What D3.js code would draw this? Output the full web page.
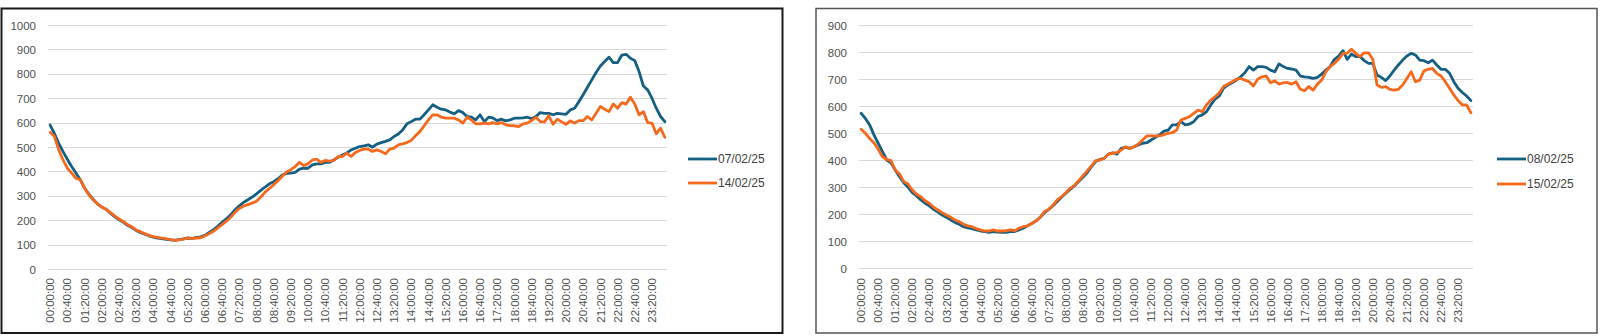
<!DOCTYPE html>
<html>
<head>
<meta charset="utf-8">
<script src="https://cdn.jsdelivr.net/npm/d3@7"></script>
<style>
  html, body { margin: 0; padding: 0; background: #fff; }
  svg { display: block; }
  text { font-family: "Liberation Sans", Arial, sans-serif; }
</style>
</head>
<body>
<svg id="chart" width="1600" height="336"></svg>
<script>
// ---------- DATA ----------
// 10-minute categories 00:00:00 .. 23:50:00
const categories = d3.range(0, 144).map(i => {
  const h = Math.floor(i / 6), m = (i % 6) * 10;
  return String(h).padStart(2, "0") + ":" + String(m).padStart(2, "0") + ":00";
});
// tick labels shown every 40 minutes
const tickLabels = categories.filter((c, i) => i % 4 === 0);

const leftSeriesNames = ["07/02/25", "14/02/25"];
const rightSeriesNames = ["08/02/25", "15/02/25"];

const leftYTicks = [0, 100, 200, 300, 400, 500, 600, 700, 800, 900, 1000];
const rightYTicks = [0, 100, 200, 300, 400, 500, 600, 700, 800, 900];

const values0702 = [
  590,555,515,481,450,420,393,366,332,307,286,267,254,
  245,229,215,202,192,179,170,158,150,143,136,131,127,124,121,119,117,120,123,127,125,130,132,138,150,161,175,191,206,222,243,259,273,284,295,308,322,336,349,358,370,385,392,
  393,396,409,413,413,427,431,431,437,437,447,458,467,475,488,495,502,505,509,499,512,
  518,523,529,543,553,570,595,604,614,614,632,652,673,663,655,652,643,636,649,641,625,622,611,632,604,622,619,608,614,607,611,618,618,619,622,616,625,641,638,638,632,638,636,634,652,659,686,714,745,775,805,832,850,868,846,846,877,880,864,854,809,750,734,700,659,625,604
];
const values1402 = [
  560,543,488,447,413,393,372,366,332,304,284,267,254,
  245,232,218,205,195,182,173,160,153,145,138,133,130,127,124,120,118,119,122,128,124,127,128,135,145,155,168,182,196,212,232,248,258,264,270,278,295,315,330,345,362,380,398,
  407,420,437,424,431,447,450,437,445,442,445,461,461,475,461,477,486,491,491,482,488,
  482,472,491,495,509,513,518,527,546,563,587,611,632,632,622,618,618,618,611,598,622,611,595,595,598,595,600,595,600,591,588,587,584,595,598,608,622,604,603,628,593,614,603,593,607,598,608,608,625,611,638,666,655,645,676,659,682,676,704,676,632,645,600,598,554,577,540
];
const values0802 = [
  573,554,530,493,462,431,400,390,363,338,316,299,279,267,252,240,230,217,207,196,188,178,169,162,153,149,146,141,137,135,132,135,133,132,132,135,135,141,147,156,165,174,188,205,217,231,246,262,277,291,304,320,336,353,375,394,
  402,406,422,427,422,443,447,443,449,456,462,464,474,484,493,507,
  511,530,530,542,530,533,542,561,567,579,604,625,637,666,678,686,696,708,723,746,733,746,746,743,733,727,756,746,739,737,733,711,708,706,702,706,718,733,746,773,785,805,773,792,783,783,768,758,758,715,706,694,711,733,752,770,785,795,789,770,768,760,770,752,736,736,721,690,666,650,637,620
];
const values1502 = [
  514,499,480,464,440,412,402,398,363,348,320,311,289,273,264,249,240,225,215,205,196,188,178,172,162,156,153,146,141,137,137,141,137,137,138,141,138,147,153,156,165,174,188,209,217,233,252,264,279,295,305,323,341,360,378,398,
  400,406,422,425,427,437,449,443,449,459,474,489,489,489,489,494,
  499,501,511,548,554,561,573,585,579,604,622,634,649,672,681,690,699,702,696,690,674,699,708,711,686,693,681,686,687,681,690,662,657,672,659,681,696,727,746,758,773,795,795,810,795,783,797,797,773,678,669,672,662,659,662,678,702,727,690,696,730,736,739,721,711,690,666,641,620,604,604,575
];

const seriesColors = ["#155F82", "#F5691C"];

// ---------- DRAW ----------
const svg = d3.select("#chart");
svg.append("rect").attr("width", 1600).attr("height", 336).attr("fill", "#fff");

function drawPanel(cfg) {
  const g = svg.append("g");
  // frame
  g.append("rect")
    .attr("x", cfg.frame[0]).attr("y", cfg.frame[1])
    .attr("width", cfg.frame[2]).attr("height", cfg.frame[3])
    .attr("fill", "none").attr("stroke", cfg.frameColor).attr("stroke-width", cfg.frameWidth);

  const x = d3.scaleBand().domain(categories).range([cfg.plot.x0, cfg.plot.x1]);
  const y = d3.scaleLinear().domain([0, cfg.yMax]).range([cfg.plot.y0, cfg.plot.y1]);
  const cx = c => x(c) + x.bandwidth() / 2;

  // gridlines
  g.append("g").selectAll("line").data(cfg.yTicks).join("line")
    .attr("x1", cfg.plot.x0).attr("x2", cfg.plot.x1)
    .attr("y1", d => Math.round(y(d)) + 0.5).attr("y2", d => Math.round(y(d)) + 0.5)
    .attr("stroke", "#d9d9d9").attr("stroke-width", 1.2);

  // y axis labels
  const yAxis = d3.axisLeft(y).tickValues(cfg.yTicks).tickFormat(d3.format("d")).tickSize(0).tickPadding(0);
  const ya = g.append("g").attr("transform", `translate(${cfg.yLabelX},0)`).call(yAxis);
  ya.select(".domain").remove();
  ya.selectAll("text").attr("fill", "#505050").style("font-size", "11.5px")
    .style("font-family", '"Liberation Sans", Arial, sans-serif')
    .attr("dy", "0.36em");

  // x axis labels
  const xa = g.append("g");
  xa.selectAll("text").data(tickLabels).join("text")
    .attr("transform", d => `translate(${cx(d)},${cfg.xLabelTop}) rotate(-90)`)
    .attr("text-anchor", "end")
    .attr("dy", "0.36em")
    .attr("fill", "#505050")
    .style("font-size", "11.5px")
    .text(d => d);

  // lines
  const line = d3.line().x((d, i) => cx(categories[i])).y(d => y(d)).curve(d3.curveLinear);
  cfg.series.forEach((s, k) => {
    g.append("path").datum(s.values)
      .attr("d", line)
      .attr("fill", "none")
      .attr("stroke", seriesColors[k])
      .attr("stroke-width", 2.8)
      .attr("stroke-linejoin", "round")
      .attr("stroke-linecap", "round");
  });

  // legend
  cfg.series.forEach((s, k) => {
    const ly = cfg.legend.y + k * cfg.legend.dy;
    g.append("line")
      .attr("x1", cfg.legend.x).attr("x2", cfg.legend.x + 29)
      .attr("y1", ly).attr("y2", ly)
      .attr("stroke", seriesColors[k]).attr("stroke-width", 2.8);
    g.append("text")
      .attr("x", cfg.legend.x + 30).attr("y", ly).attr("dy", "0.36em")
      .attr("fill", "#404040").style("font-size", "12px")
      .text(s.name);
  });
}

drawPanel({
  frame: [1.5, 8.5, 781, 324.5], frameColor: "#1a1a1a", frameWidth: 2,
  plot: { x0: 48, x1: 667, y0: 269, y1: 25 },
  yMax: 1000, yTicks: leftYTicks, yLabelX: 36, xLabelTop: 278,
  series: [
    { name: leftSeriesNames[0], values: values0702 },
    { name: leftSeriesNames[1], values: values1402 }
  ],
  legend: { x: 688, y: 159, dy: 24 }
});

drawPanel({
  frame: [816, 8.5, 781, 324.5], frameColor: "#555", frameWidth: 1.5,
  plot: { x0: 859, x1: 1473, y0: 268, y1: 25 },
  yMax: 900, yTicks: rightYTicks, yLabelX: 847, xLabelTop: 278,
  series: [
    { name: rightSeriesNames[0], values: values0802 },
    { name: rightSeriesNames[1], values: values1502 }
  ],
  legend: { x: 1497, y: 159, dy: 25 }
});
</script>
</body>
</html>
